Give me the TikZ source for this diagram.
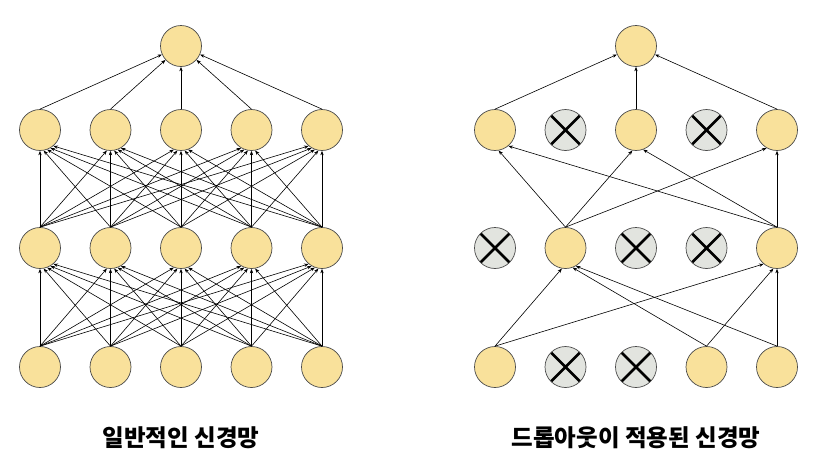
\documentclass[tikz,border=0pt]{standalone}
\usepackage{fontspec}
\newfontfamily\krfont{Noto Sans CJK KR}
\usetikzlibrary{arrows.meta}

\definecolor{unitfill}{HTML}{F9E19B}
\definecolor{dropfill}{HTML}{E2E4DF}
\definecolor{unitline}{HTML}{4A4A4A}

\begin{document}
\begin{tikzpicture}[
    x=1pt, y=-1pt,
    unit/.style={draw=unitline, circle, fill=unitfill, minimum size=41pt,
                 inner sep=0pt, line width=0.7pt},
    dropped/.style={unit, fill=dropfill,
                    path picture={\draw[black, line width=2.5pt]
                      (path picture bounding box.center) +(-20,-20) -- +(20,20)
                      (path picture bounding box.center) +(-20,20) -- +(20,-20);}},
    arrow/.style={-{Stealth[length=4.5pt,width=3.4pt]}, line width=0.6pt},
    caption/.style={font=\krfont\bfseries\fontsize{23.5}{26}\selectfont}
]
    \useasboundingbox (0,0) rectangle (828,458);

    % Left: ordinary network
    \foreach \i/\x in {1/40,2/110.5,3/181,4/251.5,5/322} {
        \node[unit] (in\i) at (\x,367) {};
        \node[unit] (ha\i) at (\x,248) {};
        \node[unit] (hb\i) at (\x,130) {};
    }
    \node[unit] (out) at (181,46) {};

    \foreach \i in {1,...,5} {
        \foreach \j [evaluate=\j as \ang using int(270+10*(\i-\j))] in {1,...,5} {
            \draw[arrow] (in\i.north) -- (ha\j.\ang);
            \draw[arrow] (ha\i.north) -- (hb\j.\ang);
        }
        \draw[arrow] (hb\i.north) -- (out);
    }

    % Right: network with dropout
    \foreach \i/\x/\s in {1/495/unit,2/565.5/dropped,3/636/dropped,4/706.5/unit,5/777/unit}
        \node[\s] (rin\i) at (\x,367) {};
    \foreach \i/\x/\s in {1/495/dropped,2/565.5/unit,3/636/dropped,4/706.5/dropped,5/777/unit}
        \node[\s] (rha\i) at (\x,248) {};
    \foreach \i/\x/\s in {1/495/unit,2/565.5/dropped,3/636/unit,4/706.5/dropped,5/777/unit}
        \node[\s] (rhb\i) at (\x,130) {};
    \node[unit] (rout) at (636,46) {};

    \foreach \a/\b/\ang in {1/2/260,4/2/290,5/2/300,1/5/230,4/5/260,5/5/270}
        \draw[arrow] (rin\a.north) -- (rha\b.\ang);
    \foreach \a/\b/\ang in {2/1/280,5/1/310,2/3/260,5/3/290,2/5/240,5/5/270}
        \draw[arrow] (rha\a.north) -- (rhb\b.\ang);
    \foreach \a in {1,3,5}
        \draw[arrow] (rhb\a.north) -- (rout);

    % Captions
    \node[caption] (capleft) at (181,438) {일반적인 신경망};
    \node[caption] (capright) at (636,438) {드롭아웃이 적용된 신경망};
\end{tikzpicture}
\end{document}
